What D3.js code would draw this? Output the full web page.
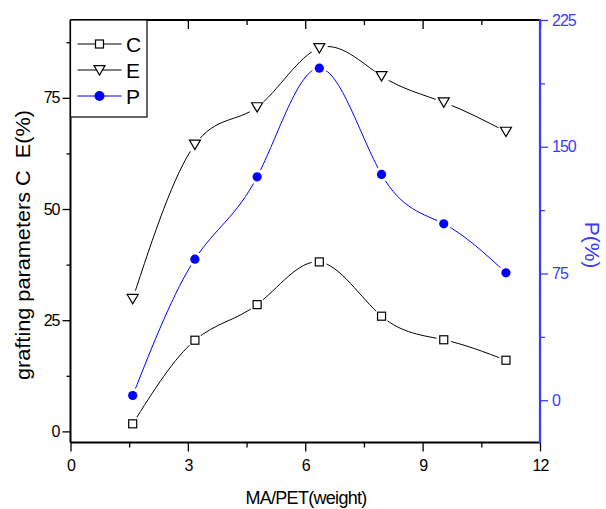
<!DOCTYPE html>
<html>
<head>
<meta charset="utf-8">
<script src="https://cdn.jsdelivr.net/npm/d3@7"></script>
<style>
  html, body { margin: 0; padding: 0; background: #fff; }
  svg { display: block; font-family: "Liberation Sans", Arial, sans-serif; }
  .keep-space { white-space: pre; }
</style>
</head>
<body>
<svg id="chart" width="606" height="509"></svg>
<script>
// MA/PET mass ratio for each sample
const ratios = [1.59, 3.18, 4.77, 6.36, 7.95, 9.54, 11.13];
// grafting parameters (left axis, %)
const seriesC = [1.7, 20.5, 28.5, 38.1, 25.9, 20.6, 16.0];
const seriesE = [29.8, 64.5, 72.9, 86.2, 79.9, 74.0, 67.4];
// P (right axis, %)
const seriesP = [2.8, 83.5, 132.2, 196.5, 133.6, 104.4, 75.4];

const xTicks = [0, 3, 6, 9, 12];
const leftTicks = [0, 25, 50, 75];
const rightTicks = [0, 75, 150, 225];
const legendNames = ["C", "E", "P"];

const svg = d3.select("#chart");
const L = 70.5, R = 540, T = 20, B = 442.5;
const blue = "#0000ff";
const axisBlue = "#3a3aff";

const x = d3.scaleLinear().domain([0, 12]).range([L, R]);
const yL = d3.scaleLinear().domain([-2.5, 92.5]).range([B, T]);
const yR = d3.scaleLinear().domain([-25, 225]).range([B, T]);

// minor tick values halfway between majors
const halves = arr => arr.slice(0, -1).map((v, i) => (v + arr[i + 1]) / 2);

// bottom axis (ticks outward)
svg.append("g").attr("transform", `translate(0,${B})`)
  .call(d3.axisBottom(x).tickValues(xTicks).tickSize(9).tickSizeOuter(0).tickPadding(8).tickFormat(d3.format("d")));
svg.append("g").attr("transform", `translate(0,${B})`)
  .call(d3.axisBottom(x).tickValues(halves(xTicks)).tickSize(5).tickSizeOuter(0).tickFormat(""));

// top axis (ticks inward, no labels)
svg.append("g").attr("transform", `translate(0,${T})`)
  .call(d3.axisBottom(x).tickValues(xTicks).tickSize(9).tickSizeOuter(0).tickFormat(""));
svg.append("g").attr("transform", `translate(0,${T})`)
  .call(d3.axisBottom(x).tickValues(halves(xTicks)).tickSize(5).tickSizeOuter(0).tickFormat(""));

// left axis
svg.append("g").attr("transform", `translate(${L},0)`)
  .call(d3.axisLeft(yL).tickValues(leftTicks).tickSize(8).tickSizeOuter(0).tickPadding(3));
svg.append("g").attr("transform", `translate(${L},0)`)
  .call(d3.axisLeft(yL).tickValues(halves(leftTicks).concat([87.5])).tickSize(4).tickSizeOuter(0).tickFormat(""));

// right axis (blue)
svg.append("g").attr("class", "raxis").attr("transform", `translate(${R},0)`)
  .call(d3.axisRight(yR).tickValues(rightTicks).tickSize(8).tickSizeOuter(0).tickPadding(4));
svg.append("g").attr("class", "raxis").attr("transform", `translate(${R},0)`)
  .call(d3.axisRight(yR).tickValues(halves(rightTicks)).tickSize(5).tickSizeOuter(0).tickFormat(""));

svg.selectAll(".domain").remove();
svg.selectAll(".tick line").attr("stroke", "#000").attr("stroke-width", 1.3);
svg.selectAll(".tick text").attr("font-size", 16).attr("fill", "#000").attr("letter-spacing", "-1px")
  .attr("font-family", "Liberation Sans, Arial, sans-serif");
svg.selectAll(".raxis .tick line").attr("stroke", axisBlue);
svg.selectAll(".raxis .tick text").attr("fill", axisBlue);

// frame
svg.append("line").attr("x1", L).attr("x2", R).attr("y1", T).attr("y2", T).attr("stroke", "#000").attr("stroke-width", 2);
svg.append("line").attr("x1", L).attr("x2", R).attr("y1", B).attr("y2", B).attr("stroke", "#000").attr("stroke-width", 2);
svg.append("line").attr("x1", L).attr("x2", L).attr("y1", T).attr("y2", B).attr("stroke", "#000").attr("stroke-width", 2);
svg.append("line").attr("x1", R).attr("x2", R).attr("y1", T - 1).attr("y2", B + 1).attr("stroke", axisBlue).attr("stroke-width", 2.2);

// smooth connecting curves
const curveOf = (vals, ys) => d3.line().curve(d3.curveNatural)
  .x((d, i) => x(ratios[i])).y(d => ys(d))(vals);

const plot = svg.append("g");
plot.append("path").attr("d", curveOf(seriesE, yL)).attr("fill", "none").attr("stroke", "#000").attr("stroke-width", 1);
plot.append("path").attr("d", curveOf(seriesC, yL)).attr("fill", "none").attr("stroke", "#000").attr("stroke-width", 1);
plot.append("path").attr("d", curveOf(seriesP, yR)).attr("fill", "none").attr("stroke", blue).attr("stroke-width", 1);

const triDown = (cx, cy, s) => `M${cx - s},${cy - s * 0.8}L${cx + s},${cy - s * 0.8}L${cx},${cy + s * 0.9}Z`;

function drawMarkers(vals, ys, kind) {
  const pts = vals.map((v, i) => [x(ratios[i]), ys(v)]);
  // white gap around each symbol
  plot.selectAll(null).data(pts).enter().append("circle")
    .attr("cx", d => d[0]).attr("cy", d => d[1]).attr("r", kind === "tri" ? 8.5 : 7.5).attr("fill", "#fff");
  if (kind === "sq") {
    plot.selectAll(null).data(pts).enter().append("rect")
      .attr("x", d => d[0] - 4).attr("y", d => d[1] - 4).attr("width", 8).attr("height", 8)
      .attr("fill", "#fff").attr("stroke", "#000").attr("stroke-width", 1.2);
  } else if (kind === "tri") {
    plot.selectAll(null).data(pts).enter().append("path")
      .attr("d", d => triDown(d[0], d[1], 5.5))
      .attr("fill", "#fff").attr("stroke", "#000").attr("stroke-width", 1.2);
  } else {
    plot.selectAll(null).data(pts).enter().append("circle")
      .attr("cx", d => d[0]).attr("cy", d => d[1]).attr("r", 4.6).attr("fill", blue);
  }
}
drawMarkers(seriesE, yL, "tri");
drawMarkers(seriesC, yL, "sq");
drawMarkers(seriesP, yR, "dot");

// legend
const lg = svg.append("g");
lg.append("rect").attr("x", L).attr("y", T).attr("width", 76.5).attr("height", 97)
  .attr("fill", "#fff").attr("stroke", "#000").attr("stroke-width", 1.2);
const rows = [44, 70, 96];
const kinds = ["sq", "tri", "dot"];
legendNames.forEach((name, i) => {
  const cy = rows[i];
  const col = kinds[i] === "dot" ? blue : "#000";
  lg.append("line").attr("x1", 77.5).attr("x2", 121.5).attr("y1", cy).attr("y2", cy).attr("stroke", col).attr("stroke-width", 1);
  if (kinds[i] === "sq") {
    lg.append("rect").attr("x", 95.5).attr("y", cy - 4).attr("width", 8).attr("height", 8)
      .attr("fill", "#fff").attr("stroke", "#000").attr("stroke-width", 1.2);
  } else if (kinds[i] === "tri") {
    lg.append("path").attr("d", triDown(99.5, cy, 5.5)).attr("fill", "#fff").attr("stroke", "#000").attr("stroke-width", 1.2);
  } else {
    lg.append("circle").attr("cx", 99.5).attr("cy", cy).attr("r", 5).attr("fill", blue);
  }
  lg.append("text").attr("x", 126).attr("y", cy + 7.5).attr("font-size", 21).attr("fill", "#000").text(name);
});

// axis titles
svg.append("text").attr("x", 306).attr("y", 504).attr("text-anchor", "middle")
  .attr("font-size", 18).attr("letter-spacing", "-0.7px").attr("fill", "#000").text("MA/PET(weight)");
svg.append("text").attr("class", "keep-space").attr("transform", "translate(30,245) rotate(-90)").attr("text-anchor", "middle")
  .attr("font-size", 19.5).attr("textLength", 270).attr("lengthAdjust", "spacingAndGlyphs")
  .attr("fill", "#000").text("grafting parameters C  E(%)");
svg.append("text").attr("transform", "translate(585,245) rotate(90)").attr("text-anchor", "middle")
  .attr("font-size", 21).attr("fill", axisBlue).text("P(%)");
</script>
</body>
</html>
